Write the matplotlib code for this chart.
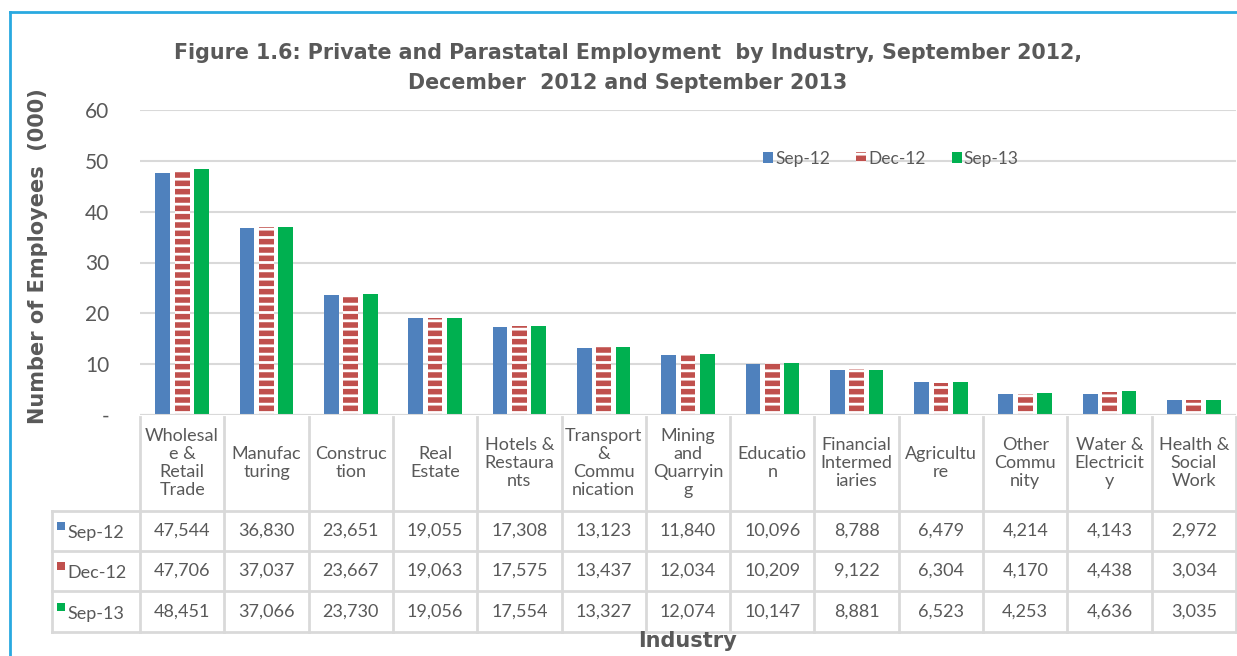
import matplotlib
matplotlib.use("Agg")
import matplotlib.pyplot as plt
import matplotlib.transforms as mtransforms
from matplotlib.lines import Line2D
from matplotlib.patches import Rectangle
import numpy as np

plt.rcParams['font.family'] = ['Lato', 'DejaVu Sans']
plt.rcParams['hatch.color'] = 'white'
plt.rcParams['hatch.linewidth'] = 2.0

categories = ["Wholesal\ne &\nRetail\nTrade", "Manufac\nturing", "Construc\ntion", "Real\nEstate",
              "Hotels &\nRestaura\nnts", "Transport\n&\nCommu\nnication", "Mining\nand\nQuarryin\ng",
              "Educatio\nn", "Financial\nIntermed\niaries", "Agricultu\nre", "Other\nCommu\nnity",
              "Water &\nElectricit\ny", "Health &\nSocial\nWork"]
series_names = ["Sep-12", "Dec-12", "Sep-13"]
sep12 = [47544, 36830, 23651, 19055, 17308, 13123, 11840, 10096, 8788, 6479, 4214, 4143, 2972]
dec12 = [47706, 37037, 23667, 19063, 17575, 13437, 12034, 10209, 9122, 6304, 4170, 4438, 3034]
sep13 = [48451, 37066, 23730, 19056, 17554, 13327, 12074, 10147, 8881, 6523, 4253, 4636, 3035]
yticks = [0, 10, 20, 30, 40, 50, 60]
ytick_labels = ["-", "10", "20", "30", "40", "50", "60"]

title = "Figure 1.6: Private and Parastatal Employment  by Industry, September 2012,\nDecember  2012 and September 2013"
ylabel = "Number of Employees  (000)"
xlabel = "Industry"

colors = ["#4F81BD", "#C0504D", "#00B050"]
grey = "#595959"
gridc = "#D9D9D9"
bold_font = ['DejaVu Sans']

W, H = 1237, 656
fig = plt.figure(figsize=(W / 100, H / 100), dpi=100)
ax = fig.add_axes([140 / W, (H - 415) / H, (1236 - 140) / W, (415 - 110) / H])

x = np.arange(len(categories))
bw = 0.175
off = 0.23
series = [sep12, dec12, sep13]
for i, (vals, c) in enumerate(zip(series, colors)):
    v = np.array(vals) / 1000.0
    if i == 1:
        ax.bar(x + (i - 1) * off, v, bw, color=c, edgecolor='white', linewidth=0,
               hatch='--', zorder=3, label=series_names[i])
    else:
        ax.bar(x + (i - 1) * off, v, bw, color=c, linewidth=0, zorder=3, label=series_names[i])

ax.set_xlim(-0.5, len(categories) - 0.5)
ax.set_ylim(0, 60)
ax.set_yticks(yticks)
ax.set_yticklabels(ytick_labels, fontsize=15, color=grey)
ax.tick_params(axis='y', length=0, pad=22)
ax.set_xticks([])
for s in ax.spines.values():
    s.set_visible(False)
ax.grid(axis='y', color=gridc, linewidth=1.5, zorder=0)
ax.axhline(0, color=gridc, linewidth=1.5, zorder=4)

ax.set_ylabel(ylabel, fontsize=15, fontweight='bold', color=grey, family=bold_font)
ax.yaxis.set_label_coords(-0.084, 0.52)

fig.text(628 / W, 1 - 68 / H, title, ha='center', va='center',
         fontsize=14.9, fontweight='bold', color=grey, linespacing=1.65, family=bold_font)

leg = ax.legend(loc='center', bbox_to_anchor=(0.685, 0.84), ncol=3, frameon=False,
                fontsize=12.5, handlelength=0.6, handleheight=0.6, handletextpad=0.1,
                columnspacing=1.5, labelcolor=grey)

# data table
tr = mtransforms.blended_transform_factory(ax.transData, ax.transAxes)
ax_h = 415 - 110
def ya(py):
    return (415 - py) / ax_h

row_y = [531, 571, 612]
hlines = [511, 551, 591, 632]
left_x = -0.5 - 88 / 84.3
right_x = len(categories) - 0.5

for k, py in enumerate(hlines):
    ax.add_line(Line2D([left_x, right_x], [ya(py), ya(py)], transform=tr, color=gridc,
                       linewidth=2, clip_on=False))
ax.add_line(Line2D([left_x, left_x], [ya(511), ya(632)], transform=tr, color=gridc,
                   linewidth=2, clip_on=False))
for i in range(len(categories) + 1):
    xb = i - 0.5
    ax.add_line(Line2D([xb, xb], [ya(417), ya(632)], transform=tr, color=gridc,
                       linewidth=2, clip_on=False))

for i, cat in enumerate(categories):
    ax.text(i, ya(463), cat, transform=tr, ha='center', va='center', fontsize=13,
            color=grey, linespacing=1.15, clip_on=False)
    for r, vals in enumerate(series):
        ax.text(i, ya(row_y[r]), f"{vals[i]:,}", transform=tr, ha='center', va='center',
                fontsize=13, color=grey, clip_on=False)

for r, name in enumerate(series_names):
    sq_x = left_x + 5 / 84.3
    ax.add_patch(Rectangle((sq_x, ya(row_y[r] - 1)), 8 / 84.3, 8 / ax_h, transform=tr,
                           facecolor=colors[r], edgecolor='none', clip_on=False))
    ax.text(sq_x + 10 / 84.3, ya(row_y[r] + 2), name, transform=tr, ha='left', va='center',
            fontsize=13, color=grey, clip_on=False)

ax.text(0.5, ya(641), xlabel, transform=ax.transAxes, ha='center', va='center',
        fontsize=15, fontweight='bold', color=grey, clip_on=False, family=bold_font)

# outer frame (blue)
fig.add_artist(Line2D([10 / W, 10 / W], [0, 1 - 12 / H], transform=fig.transFigure,
                      color="#29A9E0", linewidth=2))
fig.add_artist(Line2D([10 / W, 1], [1 - 12 / H, 1 - 12 / H], transform=fig.transFigure,
                      color="#29A9E0", linewidth=2))

fig.savefig("out.png", dpi=100)
